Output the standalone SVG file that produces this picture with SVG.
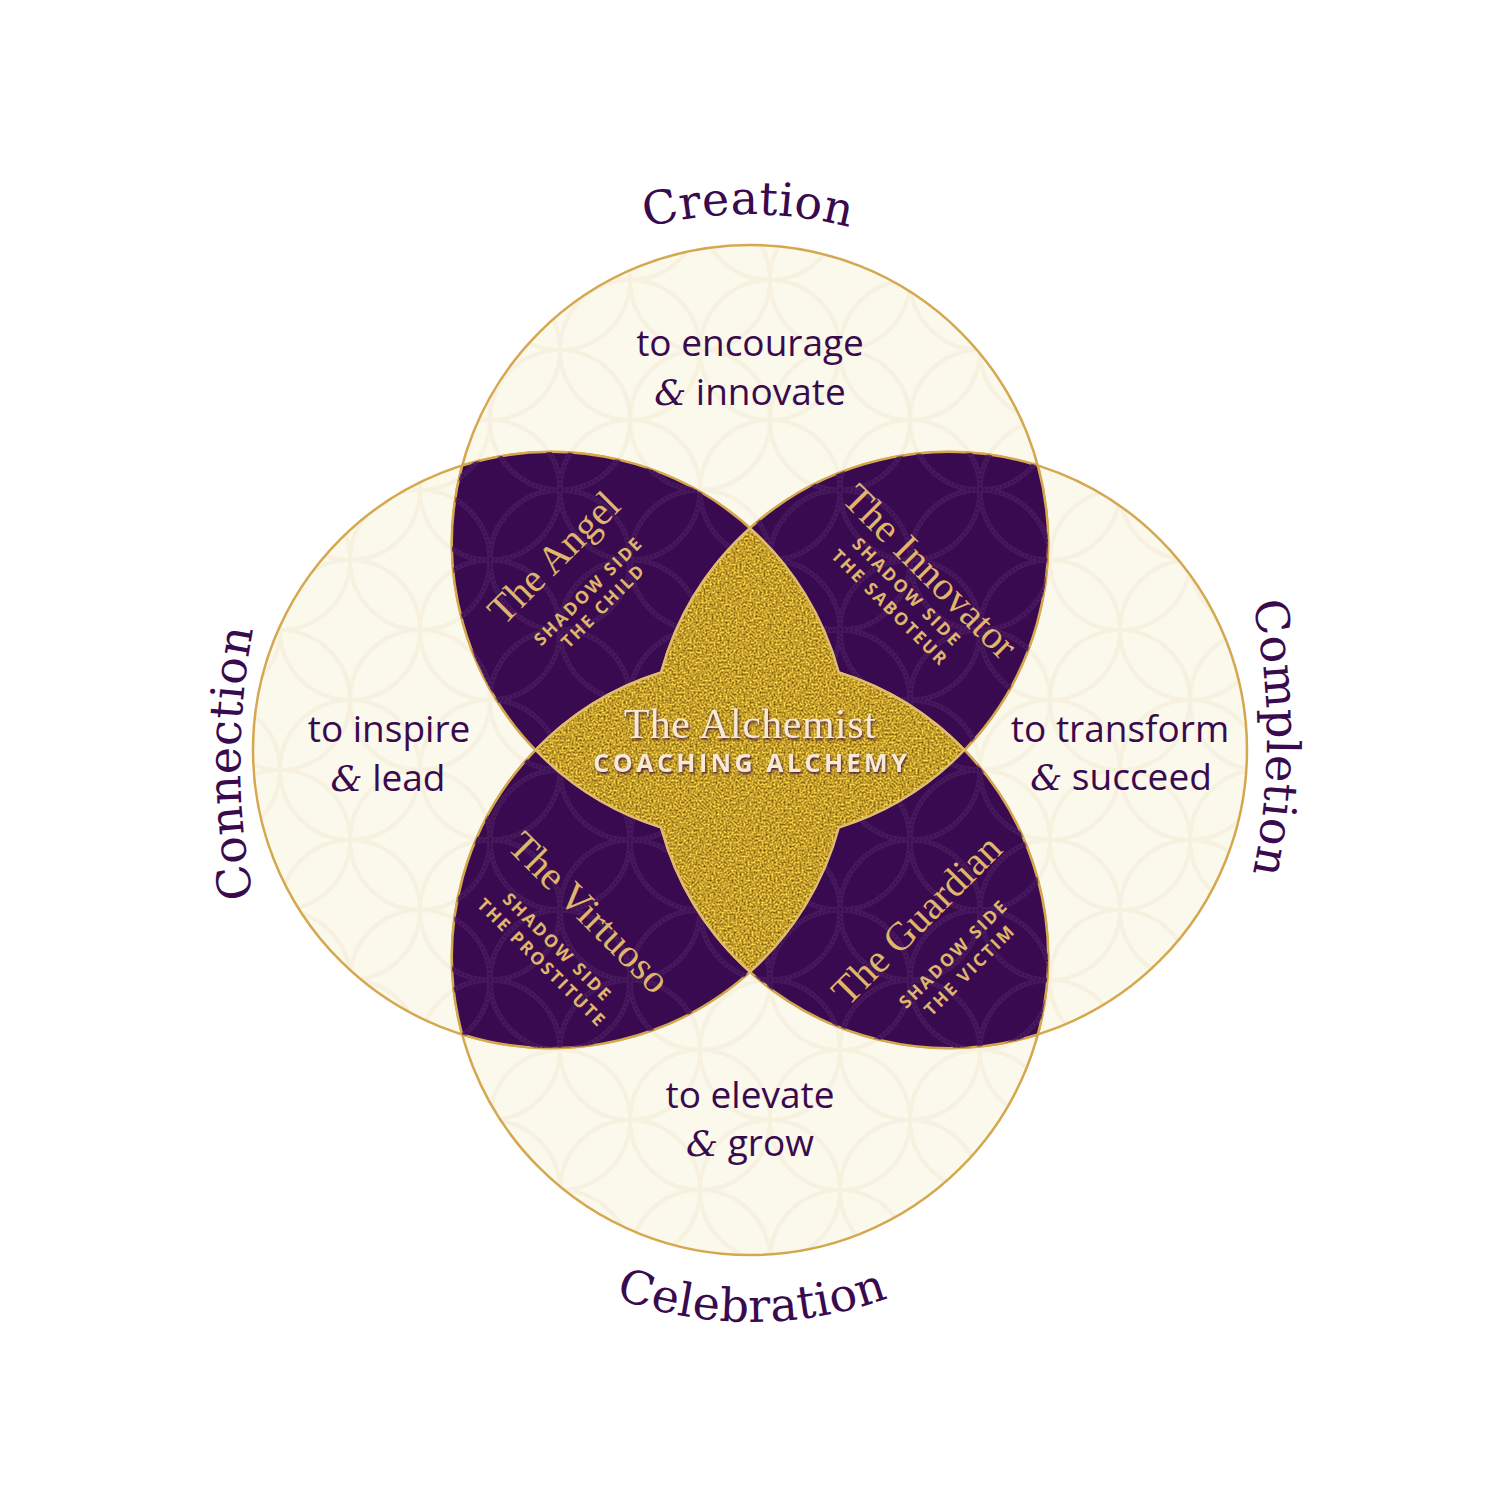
<svg xmlns="http://www.w3.org/2000/svg" xmlns:xlink="http://www.w3.org/1999/xlink" width="1500" height="1500" viewBox="0 0 1500 1500">
<defs>
<style>
.cream{fill:#fbf8ec;stroke:none}
.ring{fill:none;stroke:#d5a84f;stroke-width:2.5}
.lens{fill:#3a0a51;stroke:#d5a84f;stroke-width:2.5}
.head{font-family:"DejaVu Serif",serif;font-size:46px;fill:#3a0a4e;letter-spacing:0.5px}
.body{font-family:"Open Sans","Liberation Sans",sans-serif;font-size:37px;fill:#3a0a4e;text-anchor:middle}
.amp{font-family:"DejaVu Serif",serif;font-style:italic;font-size:36px}
.title{font-family:"Liberation Serif",serif;font-size:40px;fill:#dfb66b;text-anchor:middle}
.sub{font-family:"Open Sans","Liberation Sans",sans-serif;font-weight:700;font-size:17.5px;fill:#dfb66b;text-anchor:middle;letter-spacing:2.2px}
</style>
<pattern id="laceC" width="140" height="140" patternUnits="userSpaceOnUse">
<g fill="none" stroke="#f1e8cf" stroke-width="4" opacity="0.45">
<circle cx="0" cy="0" r="70"/><circle cx="140" cy="0" r="70"/><circle cx="0" cy="140" r="70"/><circle cx="140" cy="140" r="70"/><circle cx="70" cy="70" r="70"/>
</g>
<g fill="none" stroke="#f7f1df" stroke-width="1.5" stroke-dasharray="1.5 3">
<circle cx="0" cy="0" r="70"/><circle cx="140" cy="0" r="70"/><circle cx="0" cy="140" r="70"/><circle cx="140" cy="140" r="70"/><circle cx="70" cy="70" r="70"/>
</g>
</pattern>
<pattern id="laceP" width="140" height="140" patternUnits="userSpaceOnUse">
<g fill="none" stroke="#4b1c60" stroke-width="5" opacity="0.75">
<circle cx="0" cy="0" r="70"/><circle cx="140" cy="0" r="70"/><circle cx="0" cy="140" r="70"/><circle cx="140" cy="140" r="70"/><circle cx="70" cy="70" r="70"/>
</g>
<g fill="none" stroke="#3a0a51" stroke-width="2" stroke-dasharray="1.5 3">
<circle cx="0" cy="0" r="70"/><circle cx="140" cy="0" r="70"/><circle cx="0" cy="140" r="70"/><circle cx="140" cy="140" r="70"/><circle cx="70" cy="70" r="70"/>
</g>
</pattern>
<filter id="goldTex" x="0" y="0" width="1" height="1" color-interpolation-filters="sRGB">
<feTurbulence type="fractalNoise" baseFrequency="0.5" numOctaves="2" seed="5" result="n"/>
<feColorMatrix in="n" type="matrix" values="1.0 0 0 0 0.27  0.95 0 0 0 0.15  0.55 0 0 0 -0.1  0 0 0 0 1" result="c"/>
<feComposite in="c" in2="SourceGraphic" operator="in"/>
</filter>
<filter id="txtShadow" x="-10%" y="-30%" width="120%" height="160%" color-interpolation-filters="sRGB">
<feDropShadow dx="1" dy="2" stdDeviation="1" flood-color="#4a1838" flood-opacity="0.9"/>
</filter>
<path id="lensAngel" d="M462.2,465.5 A298,298 0 0 1 838.8,827.5 A298,298 0 0 1 462.2,465.5 Z"/>
<path id="lensInnovator" d="M1037.8,465.5 A298,298 0 0 0 661.2,827.5 A298,298 0 0 0 1037.8,465.5 Z"/>
<path id="lensVirtuoso" d="M462.2,1034.5 A298,298 0 0 0 838.8,672.5 A298,298 0 0 0 462.2,1034.5 Z"/>
<path id="lensGuardian" d="M1037.8,1034.5 A298,298 0 0 1 661.2,672.5 A298,298 0 0 1 1037.8,1034.5 Z"/>
<path id="goldShape" d="M750,528.2 A298,298 0 0 1 838.8,672.5 A298,298 0 0 1 964.4,750 A298,298 0 0 1 838.8,827.5 A298,298 0 0 1 750,971.8 A298,298 0 0 1 661.2,827.5 A298,298 0 0 1 535.6,750 A298,298 0 0 1 661.2,672.5 A298,298 0 0 1 750,528.2 Z"/>
<path id="arcCreation" d="M348,614 A400,400 0 0 1 1148,614"/>
<path id="arcCelebration" d="M352,922 A400,400 0 0 0 1152,922"/>
<path id="arcConnection" d="M940,1463 A700,700 0 0 1 940,63"/>
<path id="arcCompletion" d="M617,88 A650,650 0 0 1 617,1388"/>
</defs>
<rect x="0" y="0" width="1500" height="1500" fill="#ffffff"/>

<g id="circles">
<g id="circle-creation"><circle class="cream" cx="750" cy="543" r="298"/><circle cx="750" cy="543" r="298" fill="url(#laceC)"/></g>
<g id="circle-celebration"><circle class="cream" cx="750" cy="957" r="298"/><circle cx="750" cy="957" r="298" fill="url(#laceC)"/></g>
<g id="circle-connection"><circle class="cream" cx="551" cy="750" r="298"/><circle cx="551" cy="750" r="298" fill="url(#laceC)"/></g>
<g id="circle-completion"><circle class="cream" cx="949" cy="750" r="298"/><circle cx="949" cy="750" r="298" fill="url(#laceC)"/></g>
<circle class="ring" cx="750" cy="543" r="298"/>
<circle class="ring" cx="750" cy="957" r="298"/>
<circle class="ring" cx="551" cy="750" r="298"/>
<circle class="ring" cx="949" cy="750" r="298"/>
</g>

<g id="circle-texts">
<text class="body" x="750" y="356">to encourage</text>
<text class="body" x="750" y="405"><tspan class="amp">&amp;</tspan> innovate</text>
<text class="body" x="389" y="742">to inspire</text>
<text class="body" x="388" y="791"><tspan class="amp">&amp;</tspan> lead</text>
<text class="body" x="1120" y="742">to transform</text>
<text class="body" x="1121" y="790"><tspan class="amp">&amp;</tspan> succeed</text>
<text class="body" x="750" y="1108">to elevate</text>
<text class="body" x="750" y="1156"><tspan class="amp">&amp;</tspan> grow</text>
</g>

<g id="node-angel">
<use href="#lensAngel" class="lens"/>
<use href="#lensAngel" fill="url(#laceP)"/>
<g transform="translate(563,567) rotate(-45)">
<text class="title" x="0" y="0">The Angel</text>
<text class="sub" x="1.1" y="41">SHADOW SIDE</text>
<text class="sub" x="1.1" y="62">THE CHILD</text>
</g>
</g>

<g id="node-innovator">
<use href="#lensInnovator" class="lens"/>
<use href="#lensInnovator" fill="url(#laceP)"/>
<g transform="translate(921,581) rotate(45)">
<text class="title" x="0" y="0">The Innovator</text>
<text class="sub" x="-2" y="24">SHADOW SIDE</text>
<text class="sub" x="-3" y="47">THE SABOTEUR</text>
</g>
</g>

<g id="node-virtuoso">
<use href="#lensVirtuoso" class="lens"/>
<use href="#lensVirtuoso" fill="url(#laceP)"/>
<g transform="translate(580,922) rotate(45)">
<text class="title" x="0" y="0">The Virtuoso</text>
<text class="sub" x="2" y="40">SHADOW SIDE</text>
<text class="sub" x="2" y="62">THE PROSTITUTE</text>
</g>
</g>

<g id="node-guardian">
<use href="#lensGuardian" class="lens"/>
<use href="#lensGuardian" fill="url(#laceP)"/>
<g transform="translate(926,929) rotate(-45)">
<text class="title" x="0" y="0">The Guardian</text>
<text class="sub" x="2" y="43">SHADOW SIDE</text>
<text class="sub" x="2" y="66">THE VICTIM</text>
</g>
</g>

<g id="node-alchemist">
<use href="#goldShape" fill="#b8942c"/>
<use href="#goldShape" fill="#000" filter="url(#goldTex)"/>
<use href="#goldShape" fill="none" stroke="#e0bd6e" stroke-width="2.5"/>
<g filter="url(#txtShadow)">
<text x="750" y="738" font-family="'Liberation Serif',serif" font-size="42" fill="#f6ead6" text-anchor="middle" letter-spacing="0.5">The Alchemist</text>
<text x="751.8" y="772" font-family="'Open Sans','Liberation Sans',sans-serif" font-weight="700" font-size="25" fill="#f6ead6" text-anchor="middle" letter-spacing="3.5">COACHING ALCHEMY</text>
</g>
</g>

<g id="headings">
<text class="head"><textPath href="#arcCreation" startOffset="50%" text-anchor="middle">Creation</textPath></text>
<text class="head"><textPath href="#arcCelebration" startOffset="50%" text-anchor="middle">Celebration</textPath></text>
<text class="head"><textPath href="#arcConnection" startOffset="50%" text-anchor="middle">Connection</textPath></text>
<text class="head"><textPath href="#arcCompletion" startOffset="50%" text-anchor="middle">Completion</textPath></text>
</g>
</svg>
